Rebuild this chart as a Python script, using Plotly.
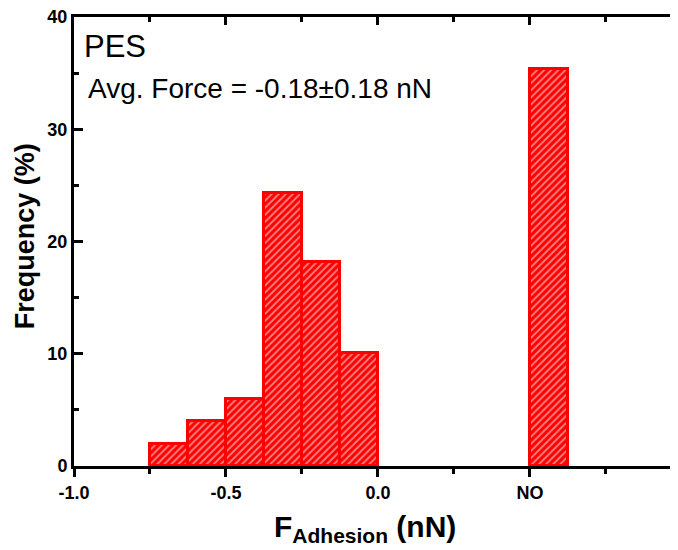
import plotly.graph_objects as go

# ---- data ----
bin_start = [-0.75, -0.625, -0.5, -0.375, -0.25, -0.125, 0.5]
bin_width = 0.125
frequency = [2.0, 4.0, 6.0, 24.3, 18.2, 10.1, 35.4]
x_tick_vals = [-1.0, -0.5, 0.0, 0.5]
x_tick_text = ["-1.0", "-0.5", "0.0", "NO"]
y_tick_vals = [0, 10, 20, 30, 40]
label_sample = "PES"
label_avg = "Avg. Force = -0.18\u00b10.18 nN"

FONT = "Liberation Sans, Arial, sans-serif"
XR = [-1.0, 0.987]
YR = [0, 40]

fig = go.Figure()
fig.add_trace(go.Bar(
    x=bin_start, y=frequency, width=bin_width, offset=0,
    marker=dict(color="#ff0000",
                line=dict(color="#ff0000", width=3),
                pattern=dict(shape="/", fgcolor="white", bgcolor="#ff0000",
                             size=5, solidity=0.38)),
    showlegend=False, hoverinfo="skip",
))
# invisible helpers so the mirror axes get drawn
fig.add_trace(go.Scatter(x=[XR[0]], y=[YR[0]], xaxis="x2", yaxis="y",
                         mode="markers", marker=dict(opacity=0), showlegend=False))
fig.add_trace(go.Scatter(x=[XR[0]], y=[YR[0]], xaxis="x", yaxis="y2",
                         mode="markers", marker=dict(opacity=0), showlegend=False))

tickfont = dict(family=FONT, size=18, color="black", weight="bold")

fig.update_layout(
    width=670, height=542,
    margin=dict(l=66, r=0, t=9, b=84),
    plot_bgcolor="white", paper_bgcolor="white",
    bargap=0,
    xaxis=dict(range=XR, showgrid=False, zeroline=False,
               showline=True, linecolor="black", linewidth=3,
               ticks="outside", ticklen=8, tickwidth=3, tickcolor="black",
               tickvals=x_tick_vals, ticktext=x_tick_text, tickfont=tickfont,
               ticklabeloverflow="allow",
               minor=dict(tickvals=[-0.75, -0.25, 0.25, 0.75], ticks="outside",
                          ticklen=5, tickwidth=3, tickcolor="black"),
               fixedrange=True),
    xaxis2=dict(range=XR, overlaying="x", side="top", anchor="y",
                showgrid=False, zeroline=False,
                showline=True, linecolor="black", linewidth=3,
                ticks="inside", ticklen=8, tickwidth=3, tickcolor="black",
                tickvals=x_tick_vals, showticklabels=False,
                minor=dict(tickvals=[-0.75, -0.25, 0.25, 0.75], ticks="inside",
                           ticklen=5, tickwidth=3, tickcolor="black")),
    yaxis=dict(range=YR, showgrid=False, zeroline=False,
               showline=True, linecolor="black", linewidth=3,
               ticks="inside", ticklen=9, tickwidth=3, tickcolor="black",
               tickvals=y_tick_vals, tickfont=tickfont,
               ticklabeloverflow="allow",
               minor=dict(tickvals=[5, 15, 25, 35], ticks="inside",
                          ticklen=5, tickwidth=3, tickcolor="black")),
    yaxis2=dict(range=YR, overlaying="y", side="right", anchor="x",
                showgrid=False, zeroline=False, showline=False,
                ticks="inside", ticklen=6, tickwidth=3, tickcolor="black",
                tickvals=y_tick_vals, showticklabels=False,
                minor=dict(tickvals=[5, 15, 25, 35], ticks="inside",
                           ticklen=3, tickwidth=3, tickcolor="black")),
    annotations=[
        dict(text=label_sample, xref="paper", yref="paper", x=0.014, y=0.935,
             xanchor="left", yanchor="middle", showarrow=False,
             font=dict(family=FONT, size=31, color="black")),
        dict(text=label_avg, xref="paper", yref="paper", x=0.02, y=0.84,
             xanchor="left", yanchor="middle", showarrow=False,
             font=dict(family=FONT, size=28, color="black")),
        dict(text="Frequency (%)", xref="paper", yref="paper", x=-0.081, y=0.512,
             xanchor="center", yanchor="middle", showarrow=False, textangle=-90,
             font=dict(family=FONT, size=27, color="black", weight="bold")),
        dict(text="F<sub>Adhesion</sub> (nN)", xref="paper", yref="paper",
             x=0.482, y=-0.14, xanchor="center", yanchor="middle", showarrow=False,
             font=dict(family=FONT, size=30, color="black", weight="bold")),
    ],
)

fig.write_html("out.html")
